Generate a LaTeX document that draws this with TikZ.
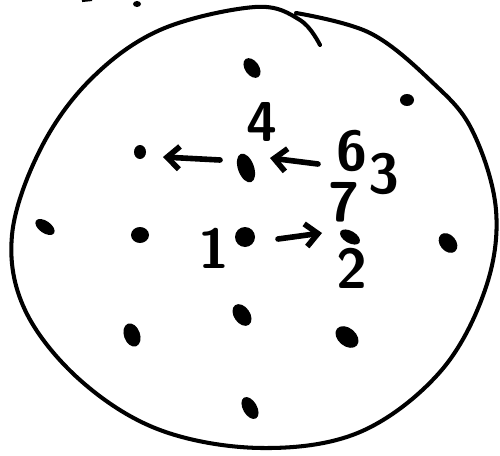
\documentclass[tikz,border=0pt]{standalone}
\usepackage{tikz}
\usetikzlibrary{arrows.meta}

\begin{document}
\begin{tikzpicture}[x=0.02cm,y=-0.02cm,>={Straight Barb[length=7pt,width=13pt]},
  spot/.style={fill=black,draw=none},
  digit/.style={font=\sffamily\bfseries\fontsize{32}{32}\selectfont,inner sep=0pt},
  hop/.style={->,line width=3.2pt,line cap=round,line join=round}]
  \useasboundingbox (0,0) rectangle (500,456);
  % the drawn outline, starting at the overlapping end near the top
  \draw[line width=2.3pt,line cap=round] plot[smooth,tension=0.6] coordinates {
    (320,45) (300,20) (255,7) (160,30) (90,80) (40,150) (12,235) (25,310)
    (80,380) (160,430) (262,448) (360,432) (440,372) (485,290) (496,210)
    (472,130) (432,82) (370,33) (296,13)};
  % stray marks at the top edge
  \draw[line width=1.2pt] (82,1) -- (92,0);
  \fill (137,4) ellipse (4 and 3);
  % the spots, row by row
  \fill[spot,rotate around={-55:(252,68)}] (252,68) ellipse (11 and 7);
  \fill[spot] (407,100) ellipse (7 and 6);
  \fill[spot] (140,152) ellipse (6 and 7);
  \fill[spot,rotate around={-70:(246,168)}] (246,168) ellipse (15 and 8);
  \fill[spot,rotate around={-35:(45,227)}] (45,227) ellipse (11 and 6);
  \fill[spot] (140,235) ellipse (9 and 8);
  \fill[spot] (245,237) ellipse (10 and 10);
  \fill[spot,rotate around={-30:(350,237)}] (350,237) ellipse (11 and 6);
  \fill[spot,rotate around={-50:(448,243)}] (448,243) ellipse (11 and 8);
  \fill[spot,rotate around={-70:(132,335)}] (132,335) ellipse (12 and 8);
  \fill[spot,rotate around={-55:(242,315)}] (242,315) ellipse (12 and 8);
  \fill[spot,rotate around={-40:(347,337)}] (347,337) ellipse (13 and 9);
  \fill[spot,rotate around={-60:(250,408)}] (250,408) ellipse (12 and 7);
  % labels
  \node[digit] (one)   at (214,248) {1};
  \node[digit] (two)   at (352,268) {2};
  \node[digit] (three) at (384,174) {3};
  \node[digit] (four)  at (262,122) {4};
  \node[digit] (six)   at (352,151) {6};
  \node[digit] (seven) at (344,202) {7};
  % hops between the spots
  \coordinate (rA) at (278,239);
  \coordinate (rB) at (322,233);
  \coordinate (mA) at (318,164);
  \coordinate (mB) at (270,158);
  \coordinate (lA) at (220,160);
  \coordinate (lB) at (163,157);
  \draw[hop] (rA) -- (rB);
  \draw[hop] (mA) -- (mB);
  \draw[hop] (lA) -- (lB);
\end{tikzpicture}
\end{document}
